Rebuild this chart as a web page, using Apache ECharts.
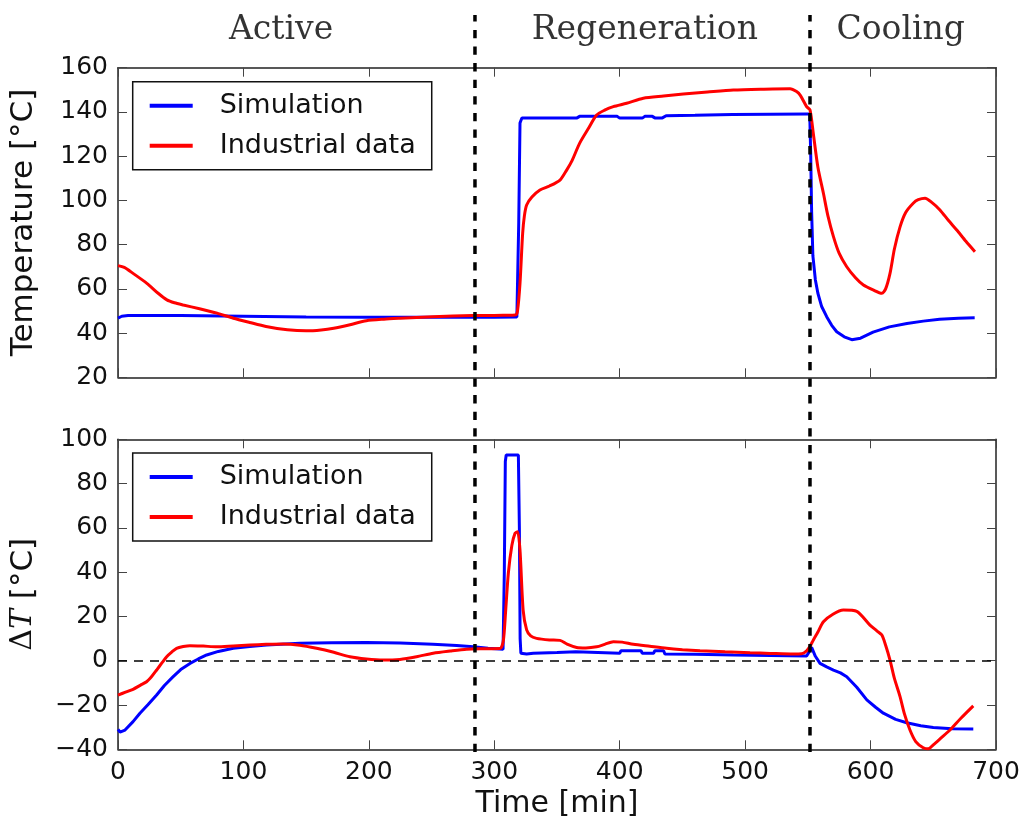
<!DOCTYPE html>
<html>
<head>
<meta charset="utf-8">
<script src="https://cdn.jsdelivr.net/npm/echarts@6/dist/echarts.min.js"></script>
<style>html,body{margin:0;padding:0;background:#fff;}#c{width:1025px;height:821px;}</style>
</head>
<body>
<div id="c"></div>
<script>
// ---- Data ----
const xTicks = [0, 100, 200, 300, 400, 500, 600, 700];
const tempTicks = [20, 40, 60, 80, 100, 120, 140, 160];
const dTTicks = [-40, -20, 0, 20, 40, 60, 80, 100];

const phaseNames = ['Active', 'Regeneration', 'Cooling'];
const phaseLabelTime = [130, 420, 624];
const phaseBoundaries = [284.6, 551.7];

// Top panel: Temperature, Simulation
const simTempTime = [0, 3, 8, 50, 100, 150, 200, 250, 300, 318, 319.5, 320.5, 322, 327, 350, 366, 368, 380, 398, 400, 418, 420, 426, 428, 434, 437, 460, 490, 520, 549, 551.5, 552.3, 553, 554, 556, 558, 561, 565, 569, 573, 579, 585, 592, 602, 615, 629, 642, 655, 670, 683];
const simTempValue = [46.8, 47.6, 47.9, 47.9, 47.6, 47.3, 47.2, 47.2, 47.2, 47.3, 90, 135, 137.3, 137.2, 137.2, 137.3, 138, 138, 138, 137.2, 137.2, 138, 138, 137.3, 137.3, 138.3, 138.5, 138.8, 139, 139.1, 139.1, 120, 95, 75, 64, 58, 52, 47.4, 43.5, 40.6, 38.3, 37, 37.7, 40.4, 42.8, 44.3, 45.4, 46.2, 46.7, 46.9];

// Top panel: Temperature, Industrial data
const indTempTime = [0, 5, 12, 23, 32, 39, 45, 52, 65, 79, 92, 105, 118, 135, 150, 162, 172, 185, 198, 212, 225, 251, 283, 300, 314, 317, 318.5, 320.5, 322.6, 324, 325.8, 330, 336.4, 344, 352.4, 357.7, 362, 368, 375, 381.6, 388, 394.9, 405.5, 418.8, 435, 450.7, 470, 490.6, 515, 535.8, 541, 544, 549, 551.7, 554.4, 558, 562.4, 566, 570.4, 575, 581, 588, 594.3, 602, 609, 612, 615.5, 619, 623.5, 628, 634, 638, 643.4, 649, 655.3, 662, 668.7, 676, 683.2];
const indTempValue = [70.5, 69.7, 67, 62.5, 58, 55, 53.7, 52.7, 51, 49, 46.7, 44.8, 43, 41.5, 41, 41.4, 42.2, 43.8, 45.6, 46.3, 46.7, 47.4, 47.9, 48, 48.1, 48.2, 50, 62.5, 85, 93, 97.9, 101.5, 104.7, 106.5, 109.2, 113.7, 118, 125.8, 132.5, 138.6, 140.8, 142.4, 143.9, 146.2, 147.2, 148.1, 149, 149.9, 150.3, 150.5, 149.2, 147.5, 142.4, 140.9, 130, 115, 103.2, 93, 83.6, 76, 70, 65, 61.7, 59.5, 58, 60, 67, 78, 88, 94.5, 98.7, 100.3, 101, 99, 95.7, 91, 86.6, 81.5, 76.8];

// Bottom panel: Delta T, Simulation
const simDTTime = [0, 1.6, 5.6, 12, 17.5, 24, 30.8, 37, 44, 50, 57.4, 64, 70.7, 80, 91.9, 105, 118.5, 145, 170, 198, 225, 251, 270, 283.3, 295, 307, 308, 308.8, 309.5, 319.2, 320, 320.6, 321.2, 325.8, 331.1, 350, 365, 366, 400, 401, 417, 418, 427, 428, 435, 436, 460, 490.6, 520, 549, 551, 553, 556, 559.7, 565, 570.4, 576, 581, 589, 597, 604, 610.2, 620, 628.8, 640, 650, 665, 681.9];
const simDTValue = [-31, -32.2, -31.3, -27.5, -23.7, -19.8, -15.5, -11.2, -7.2, -4, -1.2, 0.8, 2.6, 4.2, 5.6, 6.4, 7.1, 7.9, 8.1, 8.2, 8, 7.4, 6.9, 6.3, 5.6, 5.2, 40, 90, 92.9, 92.9, 60, 10, 3.4, 3.0, 3.4, 3.7, 4.1, 3.4, 3.4, 4.5, 4.5, 3.4, 3.4, 4.5, 4.5, 3.0, 2.9, 2.6, 2.4, 2.1, 4, 6, 2, -1.2, -2.8, -4.2, -5.5, -7.2, -12, -17.7, -21, -23.7, -26.5, -28, -29.4, -30.2, -30.7, -30.8];

// Bottom panel: Delta T, Industrial data
const indDTTime = [0, 6, 12, 18, 22.8, 27, 30.8, 35, 38.8, 43, 46.7, 52, 57.4, 68, 78.7, 92, 105.2, 118, 131.8, 145, 158.3, 172, 184.9, 198, 211.4, 224.8, 238, 251.3, 265, 277.9, 291, 304.5, 307.2, 309, 311.2, 314, 316.5, 318.6, 320.5, 323, 325.8, 329, 333.7, 344, 352.4, 358, 365.7, 373, 381.6, 388, 394.9, 402, 410.8, 424, 437.4, 450, 464, 484, 503.9, 520, 538.4, 545, 549, 551.7, 554.4, 558, 562.4, 570, 578.3, 589, 599.5, 605, 609, 612, 615.5, 619, 623.5, 627, 631.4, 636, 642, 646, 650, 656, 663.3, 672, 681.9];
const indDTValue = [-15.5, -14.2, -12.9, -11, -9.5, -7, -4.2, -1, 1.8, 4, 5.6, 6.4, 6.8, 6.6, 6.3, 6.7, 7.1, 7.4, 7.6, 7, 5.6, 3.8, 1.8, 0.8, 0.3, 0.6, 1.8, 3.4, 4.4, 5.2, 5.4, 5.5, 9, 22, 39.5, 52, 57.5, 58.3, 50, 22.9, 13.9, 11.2, 10.1, 9.4, 9.2, 7.5, 6, 5.8, 6.3, 7.4, 8.6, 8.4, 7.4, 6.5, 5.6, 5, 4.5, 4, 3.6, 3.3, 3.0, 3.1, 4.5, 6.5, 9.4, 13, 17.6, 21, 22.9, 22.3, 16.1, 13.5, 11.6, 7, 0.3, -8, -16.2, -24, -31.3, -36.5, -39.3, -39.8, -38, -35, -31.3, -26, -20.4];

// ---- Build ----
const zip = (a, b) => a.map((v, i) => [v, b[i]]);
const BLUE = '#0000ff', RED = '#ff0000';
const SANS = 'DejaVu Sans';
const fmt = v => (v < 0 ? '\u2212' + Math.abs(v) : String(v));

const L = 118, R = 1025 - 996;
const grids = [
  { left: L, right: R, top: 67.7, height: 309.6 },
  { left: L, right: R, top: 439.3, height: 310 },
  { left: L, right: R, top: 15, bottom: 821 - 752 }
];

const frameLine = { show: true, onZero: false, lineStyle: { color: '#222', width: 1.5 } };
const tickIn = { show: true, inside: true, length: 9, lineStyle: { color: '#444', width: 1 } };
const tickLabel = { color: '#111', fontFamily: SANS, fontSize: 25, formatter: fmt };

function xAx(gi, pos, labels, extra) {
  return Object.assign({
    type: 'value', gridIndex: gi, position: pos, min: xTicks[0], max: xTicks[xTicks.length - 1], interval: 100,
    axisLine: frameLine, axisTick: tickIn, splitLine: { show: false },
    axisLabel: labels ? Object.assign({ margin: 11 }, tickLabel) : { show: false }
  }, extra || {});
}
function yAx(gi, pos, ticks, labels, extra) {
  return Object.assign({
    type: 'value', gridIndex: gi, position: pos, min: ticks[0], max: ticks[ticks.length - 1], interval: 20,
    axisLine: frameLine, axisTick: tickIn, splitLine: { show: false },
    axisLabel: labels ? Object.assign({ margin: 10 }, tickLabel) : { show: false }
  }, extra || {});
}

const xAxis = [
  xAx(0, 'bottom', false),
  xAx(0, 'top', false),
  xAx(1, 'bottom', true, {
    name: 'Time [min]', nameLocation: 'middle', nameGap: 40,
    nameTextStyle: { color: '#111', fontFamily: SANS, fontSize: 30 }
  }),
  xAx(1, 'top', false),
  { type: 'value', gridIndex: 2, min: xTicks[0], max: xTicks[xTicks.length - 1], show: false }
];
const yAxis = [
  yAx(0, 'left', tempTicks, true, {
    name: 'Temperature [°C]', nameLocation: 'middle', nameGap: 79, nameRotate: 90,
    nameTextStyle: { color: '#111', fontFamily: SANS, fontSize: 31 }
  }),
  yAx(0, 'right', tempTicks, false),
  yAx(1, 'left', dTTicks, true, {
    name: '{d|Δ}{t|T}{n| [°C]}', nameLocation: 'middle', nameGap: 79, nameRotate: 90,
    nameTextStyle: {
      color: '#111', fontFamily: SANS, fontSize: 31,
      rich: {
        d: { fontFamily: 'DejaVu Serif', fontSize: 30, color: '#111' },
        t: { fontFamily: 'DejaVu Serif', fontStyle: 'italic', fontSize: 30, color: '#111' },
        n: { fontFamily: SANS, fontSize: 31, color: '#111' }
      }
    }
  }),
  yAx(1, 'right', dTTicks, false),
  { type: 'value', gridIndex: 2, min: 0, max: 1, show: false }
];

function lineSeries(name, color, xi, yi, data, smooth) {
  return {
    name, type: 'line', xAxisIndex: xi, yAxisIndex: yi, data, showSymbol: false, symbol: 'none',
    smooth: smooth, clip: true,
    lineStyle: { color, width: 3 }, itemStyle: { color }, z: 3
  };
}

const series = [
  lineSeries('Simulation', BLUE, 0, 0, zip(simTempTime, simTempValue), false),
  lineSeries('Industrial data', RED, 0, 0, zip(indTempTime, indTempValue), 0.25),
  Object.assign(lineSeries('Simulation', BLUE, 2, 2, zip(simDTTime, simDTValue), false), {
    markLine: {
      silent: true, symbol: 'none', label: { show: false },
      lineStyle: { color: '#000', type: [9, 7], width: 1.5 },
      data: [{ yAxis: 0 }]
    }
  }),
  lineSeries('Industrial data', RED, 2, 2, zip(indDTTime, indDTValue), 0.25)
];

phaseBoundaries.forEach(b => {
  series.push({
    type: 'line', xAxisIndex: 4, yAxisIndex: 4, data: [[b, 0], [b, 1]], showSymbol: false, symbol: 'none',
    silent: true, lineStyle: { color: '#000', width: 3.5, type: [8.3, 8.3] }, z: 10
  });
});
series.push({
  type: 'scatter', xAxisIndex: 4, yAxisIndex: 4, symbolSize: 0, silent: true,
  data: phaseLabelTime.map((t, i) => ({ value: [t, 1], name: phaseNames[i] })),
  label: {
    show: true, position: 'inside', offset: [0, 15], formatter: p => p.name,
    fontFamily: 'DejaVu Serif', fontSize: 33, color: '#000'
  }
});

const legendCommon = {
  data: ['Simulation', 'Industrial data'], orient: 'vertical', left: 132.7,
  icon: 'rect', itemWidth: 43, itemHeight: 4, itemGap: 12,
  borderColor: '#111', borderWidth: 1.5, borderRadius: 0,
  padding: [10, 16, 10, 17], backgroundColor: '#fff',
  textStyle: { fontFamily: SANS, fontSize: 27, color: '#111', lineHeight: 28, padding: [0, 0, 0, 22] },
  selectedMode: false
};
const legend = [
  Object.assign({ top: 81.7 }, legendCommon),
  Object.assign({ top: 453 }, legendCommon)
];

const chart = echarts.init(document.getElementById('c'), null, { renderer: 'canvas' });
chart.setOption({ animation: false, backgroundColor: '#fff', grid: grids, xAxis, yAxis, legend, series });
</script>
</body>
</html>
